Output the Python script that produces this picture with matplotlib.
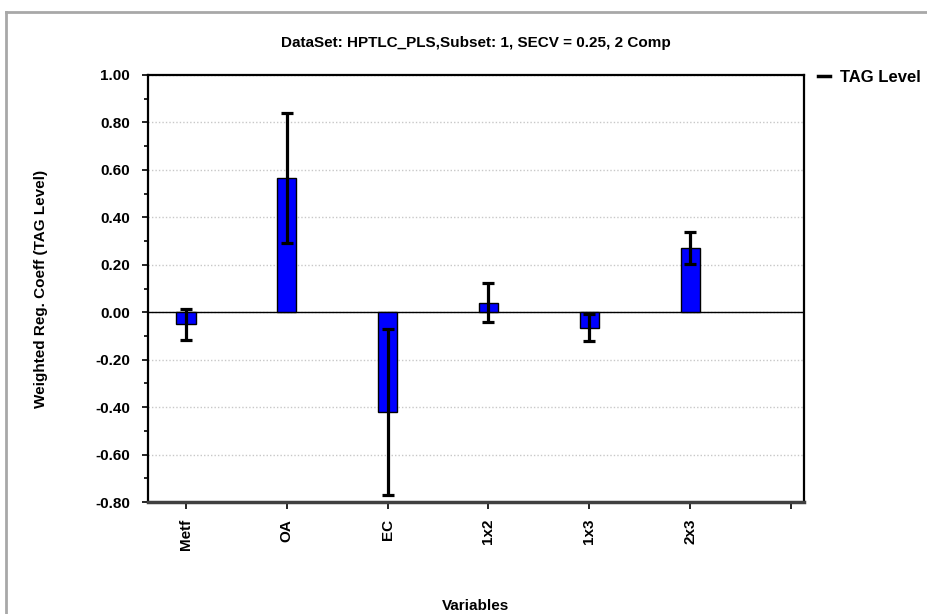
import matplotlib.pyplot as plt
import numpy as np
from matplotlib.lines import Line2D
from matplotlib.ticker import MultipleLocator, FormatStrFormatter

plt.rcParams['font.family'] = ['Liberation Sans', 'DejaVu Sans']
plt.rcParams['font.weight'] = 'bold'

# data
variables = ['Metf', 'OA', 'EC', '1x2', '1x3', '2x3']
coeffs = [-0.05, 0.565, -0.42, 0.04, -0.065, 0.272]
errors = [0.065, 0.275, 0.35, 0.082, 0.057, 0.068]

title = 'DataSet: HPTLC_PLS,Subset: 1, SECV = 0.25, 2 Comp'
series_name = 'TAG Level'

W, H = 928, 614
fig = plt.figure(figsize=(W / 100, H / 100), dpi=100)

# outer gray frame (only top and left visible in the crop)
fig.add_artist(Line2D([6 / W, 6 / W], [0, 1 - 12 / H], color='#a8a8a8', lw=2,
                      transform=fig.transFigure))
fig.add_artist(Line2D([6 / W, 1], [1 - 12 / H, 1 - 12 / H], color='#a8a8a8', lw=2,
                      transform=fig.transFigure))

left, right, top, bottom = 148, 804, 75, 502
ax = fig.add_axes([left / W, 1 - bottom / H, (right - left) / W, (bottom - top) / H])

x = np.arange(len(variables))
ax.bar(x, coeffs, width=0.19, color='#0000ff', edgecolor='black', linewidth=1, zorder=3)
ax.errorbar(x, coeffs, yerr=errors, fmt='none', ecolor='black', elinewidth=2.3,
            capsize=4.2, capthick=2.3, zorder=4)
ax.axhline(0, color='black', lw=1, zorder=2)

ax.set_ylim(-0.8, 1.0)
ax.set_xlim(-0.377, 6.13)
ax.yaxis.set_major_locator(MultipleLocator(0.2))
ax.yaxis.set_minor_locator(MultipleLocator(0.1))
ax.yaxis.set_major_formatter(FormatStrFormatter('%.2f'))
ax.yaxis.grid(True, which='major', color='#c8c8c8', linestyle=(0, (1, 1.5)), lw=1, zorder=1)

ax.set_xticks(list(x) + [len(variables)])
ax.set_xticklabels(variables + [''], rotation=90, fontsize=11, fontweight='bold')
ax.tick_params(axis='x', direction='out', length=5, width=1.2, pad=7)
ax.tick_params(axis='y', which='major', direction='out', length=4, width=1.2, pad=9,
               labelsize=11)
ax.tick_params(axis='y', which='minor', direction='out', length=3, width=1.2)

for s in ax.spines.values():
    s.set_linewidth(1.6)
    s.set_color('black')
ax.spines['bottom'].set_color('#404040')
ax.spines['bottom'].set_linewidth(2.5)

ax.set_title(title, fontsize=11, fontweight='bold', pad=20)
ax.set_ylabel('Weighted Reg. Coeff (TAG Level)', fontsize=11, fontweight='bold', labelpad=34)
fig.text((left + right) / 2 / W, 1 - 606 / H, 'Variables', fontsize=11, fontweight='bold',
         ha='center', va='center')

handle = Line2D([], [], color='black', lw=2.5)
fig.legend([handle], [series_name], loc='center left', frameon=False,
           bbox_to_anchor=(818 / W, 1 - 77 / H), handlelength=0.7, handletextpad=0.6,
           borderpad=0, borderaxespad=0, prop={'size': 12, 'weight': 'bold'})

fig.savefig('out.png', dpi=100)
